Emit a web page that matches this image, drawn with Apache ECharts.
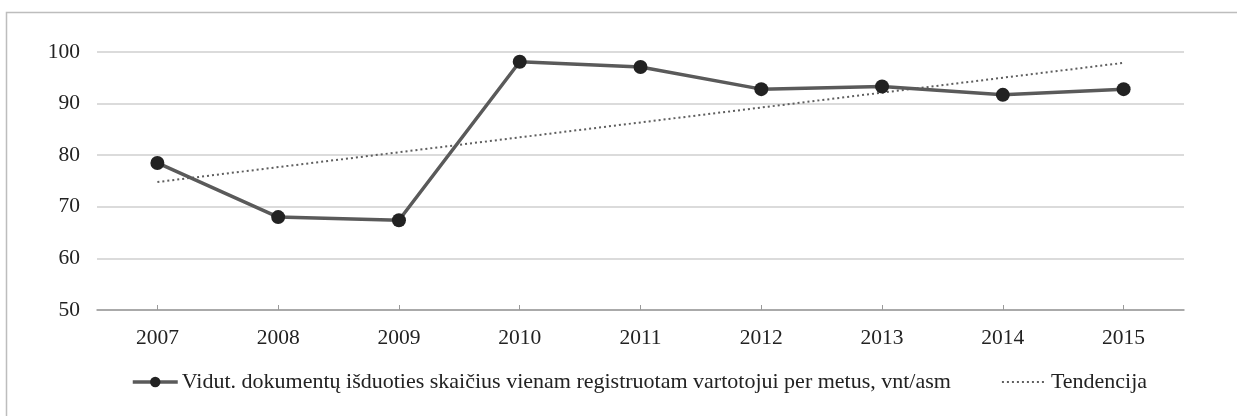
<!DOCTYPE html>
<html>
<head>
<meta charset="utf-8">
<script src="https://cdn.jsdelivr.net/npm/echarts@6/dist/echarts.min.js"></script>
<style>
html,body{margin:0;padding:0;background:#fff;}
#chart{width:1237px;height:416px;}
</style>
</head>
<body>
<div id="chart"></div>
<script>
const categories = ['2007','2008','2009','2010','2011','2012','2013','2014','2015'];
const avgValues = [78.5, 68.0, 67.4, 98.1, 97.1, 92.8, 93.3, 91.7, 92.8];
const trendValues = [74.8, null, null, null, null, null, null, null, 97.9];
const seriesNames = ['Vidut. dokumentų išduoties skaičius vienam registruotam vartotojui per metus, vnt/asm', 'Tendencija'];

const font = 'Liberation Serif';
const chart = echarts.init(document.getElementById('chart'));
chart.setOption({
  animation: false,
  backgroundColor: '#fff',
  textStyle: { fontFamily: font },
  graphic: [{
    type: 'rect', silent: true, z: -10,
    shape: { x: 6.5, y: 12.5, width: 1300, height: 500 },
    style: { fill: 'none', stroke: '#bdbdbd', lineWidth: 1.5 }
  }],
  grid: { left: 97, right: 53, top: 52, bottom: 106 },
  legend: {
    left: 131, top: 371, padding: 0,
    itemWidth: 45, itemHeight: 13, itemGap: 50,
    textStyle: { fontFamily: font, fontSize: 22, color: '#222', padding: [0,0,0,-1] },
    data: [
      { name: seriesNames[0], lineStyle: { width: 3.5 } },
      { name: seriesNames[1], itemStyle: { opacity: 0 }, lineStyle: { width: 2 } }
    ]
  },
  xAxis: {
    type: 'category',
    data: categories,
    boundaryGap: true,
    axisLine: { lineStyle: { color: '#9a9a9a', width: 1.5 } },
    axisTick: { show: true, alignWithLabel: true, inside: true, length: 5, lineStyle: { color: '#9a9a9a' } },
    axisLabel: { fontFamily: font, fontSize: 21.5, color: '#222', margin: 17 }
  },
  yAxis: {
    type: 'value', min: 50, max: 100, interval: 10,
    axisLine: { show: false },
    axisTick: { show: false },
    axisLabel: { fontFamily: font, fontSize: 21.5, color: '#222', margin: 17 },
    splitLine: { lineStyle: { color: '#cfcfcf', width: 1.5 } }
  },
  series: [
    {
      name: seriesNames[0], type: 'line', data: avgValues,
      symbol: 'circle', symbolSize: 14,
      itemStyle: { color: '#222' },
      lineStyle: { color: '#5a5a5a', width: 3.5 },
      z: 3
    },
    {
      name: seriesNames[1], type: 'line', data: trendValues,
      connectNulls: true, symbol: 'none', showSymbol: false,
      itemStyle: { color: '#5e5e5e' },
      lineStyle: { color: '#5e5e5e', width: 2, type: [2, 3] },
      z: 2
    }
  ]
});
</script>
</body>
</html>
